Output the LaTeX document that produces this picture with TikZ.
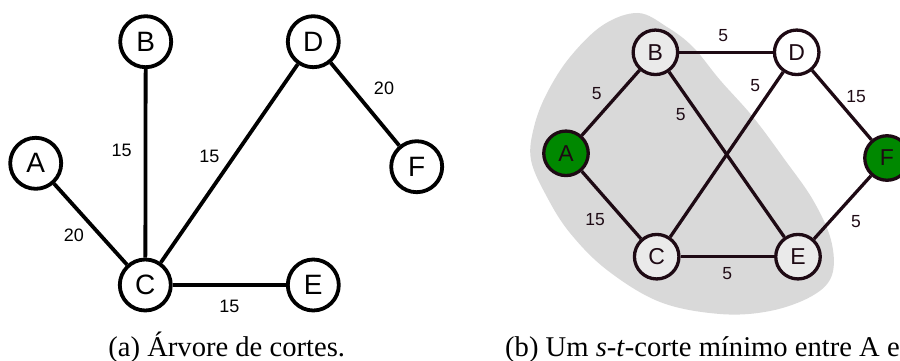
\documentclass[tikz,border=0pt]{standalone}
\usepackage{fontspec}
\setmainfont{Liberation Serif}
\newfontfamily\lsans{Liberation Sans}
\definecolor{ink}{RGB}{30,10,20}
\definecolor{blob}{RGB}{217,217,217}
\definecolor{insidefill}{RGB}{234,234,234}
\definecolor{term}{RGB}{0,136,0}
\tikzset{
  lnode/.style={circle, draw=black, line width=3.8pt, fill=white, minimum size=51pt,
    inner sep=0pt, font=\lsans\fontsize{28}{28}\selectfont},
  rnode/.style={circle, draw=ink, line width=3.3pt, fill=white, minimum size=44.5pt,
    inner sep=0pt, text=ink, font=\lsans\fontsize{23}{23}\selectfont},
  ledge/.style={draw=black, line width=3.8pt},
  redge/.style={draw=ink, line width=3.3pt},
  wlabel/.style={inner sep=0pt, font=\lsans\fontsize{18}{18}\selectfont},
  rlabel/.style={wlabel, text=ink, font=\lsans\fontsize{17.5}{17.5}\selectfont},
  caption/.style={inner sep=0pt, font=\fontsize{28.6}{34}\selectfont},
}
\begin{document}
\begin{tikzpicture}[x=1pt, y=-1pt]
  \useasboundingbox (0,0) rectangle (900,361);
  \clip (0,0) rectangle (900,361);

  % (a) cut tree
  \node[lnode] (la) at (35.7,163.3) {A};
  \node[lnode] (lb) at (145.7,41.7) {B};
  \node[lnode] (lc) at (145.3,285) {C};
  \node[lnode] (ld) at (313.3,41.7) {D};
  \node[lnode] (le) at (313.3,285) {E};
  \node[lnode] (lf) at (416.7,166.7) {F};
  \draw[ledge] (la) -- (lc);
  \draw[ledge] (lb) -- (lc);
  \draw[ledge] (lc) -- (ld);
  \draw[ledge] (lc) -- (le);
  \draw[ledge] (ld) -- (lf);
  \node[wlabel] (wac) at (74,235) {20};
  \node[wlabel] (wbc) at (121.7,150) {15};
  \node[wlabel] (wcd) at (209.3,156.7) {15};
  \node[wlabel] (wce) at (229.3,306.7) {15};
  \node[wlabel] (wdf) at (384,88.3) {20};
  \node[caption, anchor=base] (capa) at (226.7,356) {(a) Árvore de cortes.};

  % (b) minimum s-t cut: shaded source side
  \fill[blob] plot[smooth cycle, tension=0.6] coordinates {
    (638,13) (667,27) (693,47) (720,80) (753,117) (785,160) (813,200)
    (831,240) (832,275) (812,296) (770,311) (720,314) (660,302)
    (607,270) (570,233) (547,197) (531,160) (534,127) (547,93)
    (570,57) (603,25)};
  \node[rnode, fill=term] (ra) at (566,153.3) {A};
  \node[rnode, fill=insidefill] (rb) at (655.4,52.3) {B};
  \node[rnode, fill=insidefill] (rc) at (656.7,256.7) {C};
  \node[rnode] (rd) at (796.7,52.3) {D};
  \node[rnode, fill=insidefill] (re) at (798,256.7) {E};
  \node[rnode, fill=term] (rf) at (887,158) {F};
  \draw[redge] (ra) -- (rb);
  \draw[redge] (ra) -- (rc);
  \draw[redge] (rb) -- (rd);
  \draw[redge] (rb) -- (re);
  \draw[redge] (rc) -- (rd);
  \draw[redge] (rc) -- (re);
  \draw[redge] (rd) -- (rf);
  \draw[redge] (re) -- (rf);
  \node[rlabel] (vab) at (596.7,93.3) {5};
  \node[rlabel] (vac) at (595,220) {15};
  \node[rlabel] (vbd) at (723.3,36) {5};
  \node[rlabel] (vbe) at (680.7,115) {5};
  \node[rlabel] (vcd) at (755.3,86) {5};
  \node[rlabel] (vce) at (727.3,273.3) {5};
  \node[rlabel] (vdf) at (856,96.7) {15};
  \node[rlabel] (vef) at (856,221.7) {5};
  \node[caption, anchor=base west] (capb) at (505,356) {(b) Um \textit{s}-\textit{t}-corte mínimo entre A e};
\end{tikzpicture}
\end{document}
